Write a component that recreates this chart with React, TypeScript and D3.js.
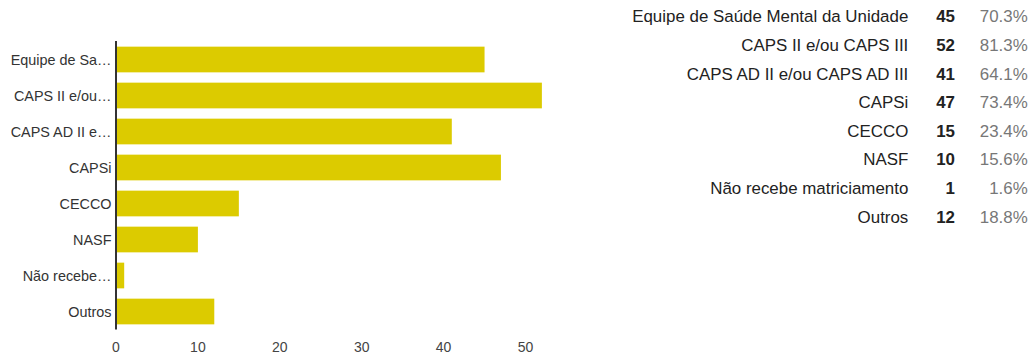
import React from "react";
import * as d3 from "d3";

const categories = [
  "Equipe de Saúde Mental da Unidade",
  "CAPS II e/ou CAPS III",
  "CAPS AD II e/ou CAPS AD III",
  "CAPSi",
  "CECCO",
  "NASF",
  "Não recebe matriciamento",
  "Outros",
];
const shortLabels = [
  "Equipe de Sa…",
  "CAPS II e/ou…",
  "CAPS AD II e…",
  "CAPSi",
  "CECCO",
  "NASF",
  "Não recebe…",
  "Outros",
];
const counts = [45, 52, 41, 47, 15, 10, 1, 12];
const percents = ["70.3%", "81.3%", "64.1%", "73.4%", "23.4%", "15.6%", "1.6%", "18.8%"];
const xTicks = [0, 10, 20, 30, 40, 50];

const W = 1030;
const H = 356;
const FONT = "'Liberation Sans', Arial, sans-serif";
const BAR = "#dccb00";

export default function App() {
  const x = d3.scaleLinear().domain([0, 50]).range([116, 525.5]);
  const y = d3
    .scaleBand<string>()
    .domain(categories)
    .range([41.5, 329.5])
    .paddingInner(0.286)
    .paddingOuter(0.143);
  const rowY = d3.scaleLinear().domain([0, 7]).range([16.7, 217.3]);

  return (
    <svg
      width={W}
      height={H}
      style={{ position: "absolute", left: 0, top: 0, background: "#fff" }}
      fontFamily={FONT}
    >
      <rect x={0} y={0} width={W} height={H} fill="#fff" />
      {categories.map((c, i) => (
        <g key={c}>
          <rect
            x={x(0) + 1}
            y={y(c)!}
            width={Math.max(0, x(counts[i]) - x(0) - 1)}
            height={y.bandwidth()}
            fill={BAR}
          />
          <text
            x={111.5}
            y={y(c)! + y.bandwidth() / 2}
            textAnchor="end"
            dominantBaseline="central"
            fontSize={14.4}
            fill="#333"
          >
            {shortLabels[i]}
          </text>
        </g>
      ))}
      <line x1={116} x2={116} y1={41} y2={329.5} stroke="#333" strokeWidth={2} />
      {xTicks.map((t) => (
        <text key={t} x={x(t)} y={352.3} textAnchor="middle" fontSize={14} fill="#444">
          {t}
        </text>
      ))}
      {categories.map((c, i) => (
        <g key={"r" + c}>
          <text
            x={908.3}
            y={rowY(i)}
            textAnchor="end"
            dominantBaseline="central"
            fontSize={16.9}
            fill="#222"
          >
            {c}
          </text>
          <text
            x={955}
            y={rowY(i)}
            textAnchor="end"
            dominantBaseline="central"
            fontSize={16.9}
            fontWeight="bold"
            fill="#222"
          >
            {counts[i]}
          </text>
          <text
            x={1027.7}
            y={rowY(i)}
            textAnchor="end"
            dominantBaseline="central"
            fontSize={16.9}
            fill="#777"
          >
            {percents[i]}
          </text>
        </g>
      ))}
    </svg>
  );
}
